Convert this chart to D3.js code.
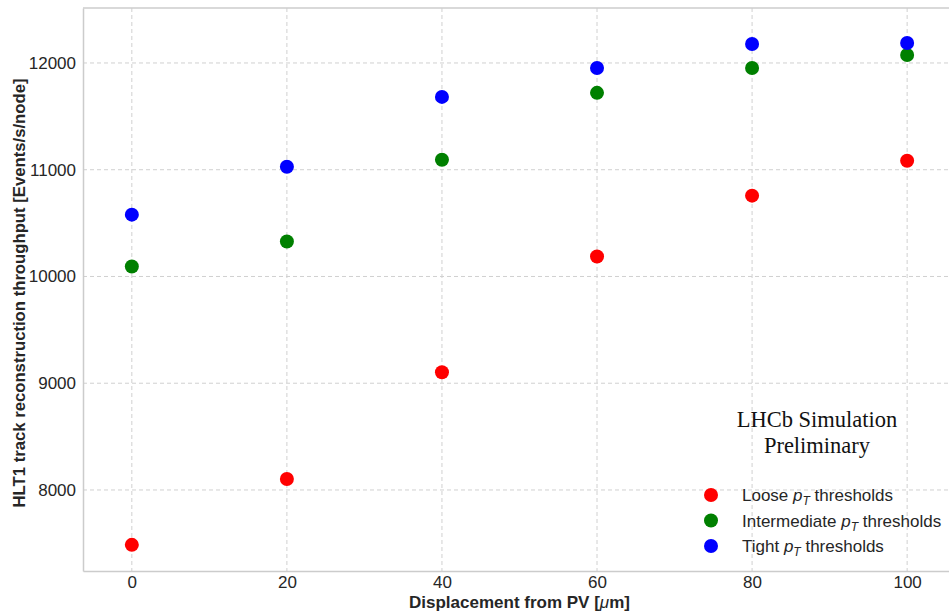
<!DOCTYPE html>
<html>
<head>
<meta charset="utf-8">
<script src="https://cdn.jsdelivr.net/npm/d3@7"></script>
<style>
  body { margin: 0; background: #fff; }
  text { font-family: "Liberation Sans", Arial, sans-serif; }
</style>
</head>
<body>
<div id="chart"></div>
<script>
/* Data */
const displacement = [0, 20, 40, 60, 80, 100];
const seriesNames = ['Loose', 'Intermediate', 'Tight'];
const seriesColors = ['#ff0000', '#008000', '#0000ff'];
const looseValues = [7486, 8103, 9103, 10187, 10757, 11084];
const intermediateValues = [10093, 10327, 11093, 11720, 11953, 12075];
const tightValues = [10579, 11028, 11682, 11953, 12178, 12187];
const xTicks = [0, 20, 40, 60, 80, 100];
const yTicks = [8000, 9000, 10000, 11000, 12000];

let width = 949, height = 616;
let margin = { top: 8, right: 0, bottom: 45, left: 83 };

let svg = d3.select('#chart').append('svg')
  .attr('width', width)
  .attr('height', height);

let x = d3.scaleLinear()
  .domain([-6.3, 105.4])
  .range([margin.left, width - margin.right]);

let y = d3.scaleLinear()
  .domain([7241, 12515])
  .range([height - margin.bottom, margin.top]);

// grid
let grid = svg.append('g');
grid.selectAll('.vgrid').data(xTicks).enter().append('line')
  .attr('x1', d => x(d)).attr('x2', d => x(d))
  .attr('y1', margin.top).attr('y2', height - margin.bottom)
  .style('stroke', '#d0d0d0').style('stroke-dasharray', '4,3').style('stroke-width', 1);
grid.selectAll('.hgrid').data(yTicks).enter().append('line')
  .attr('x1', margin.left).attr('x2', width - margin.right)
  .attr('y1', d => y(d)).attr('y2', d => y(d))
  .style('stroke', '#d0d0d0').style('stroke-dasharray', '4,3').style('stroke-width', 1);

// axes
let xAxis = svg.append('g')
  .attr('transform', 'translate(0,' + (height - margin.bottom) + ')')
  .call(d3.axisBottom(x).tickValues(xTicks).tickSize(0).tickPadding(5));
let yAxis = svg.append('g')
  .attr('transform', 'translate(' + margin.left + ',0)')
  .call(d3.axisLeft(y).tickValues(yTicks).tickFormat(d3.format('d')).tickSize(0).tickPadding(7));

[xAxis, yAxis].forEach(a => {
  a.select('.domain').style('stroke', '#cccccc').style('stroke-width', 1.5);
  a.selectAll('text').style('font-size', '17px').style('fill', '#262626')
    .style('font-family', '"Liberation Sans", Arial, sans-serif');
});

// top border
svg.append('line')
  .attr('x1', margin.left).attr('x2', width)
  .attr('y1', margin.top).attr('y2', margin.top)
  .style('stroke', '#cccccc').style('stroke-width', 1.5);

// axis labels
svg.append('text')
  .attr('x', x(50)).attr('y', 608)
  .attr('text-anchor', 'middle')
  .style('font-size', '17px').style('font-weight', 'bold').style('fill', '#262626')
  .html('Displacement from PV [<tspan font-style="italic" font-weight="normal">μ</tspan>m]');

svg.append('text')
  .attr('transform', 'translate(25,293) rotate(-90)')
  .attr('text-anchor', 'middle')
  .style('font-size', '16.7px').style('font-weight', 'bold').style('fill', '#262626')
  .text('HLT1 track reconstruction throughput [Events/s/node]');

// points
let allSeries = [looseValues, intermediateValues, tightValues];
allSeries.forEach((vals, s) => {
  svg.append('g').selectAll('circle')
    .data(vals).enter().append('circle')
    .attr('cx', (d, i) => x(displacement[i]))
    .attr('cy', d => y(d))
    .attr('r', 7)
    .style('fill', seriesColors[s]);
});

// LHCb label
let lhcb = svg.append('text')
  .attr('text-anchor', 'middle')
  .style('font-family', '"Liberation Serif", "DejaVu Serif", serif')
  .style('font-size', '22.5px').style('fill', '#111');
lhcb.append('tspan').attr('x', 817).attr('y', 427).text('LHCb Simulation');
lhcb.append('tspan').attr('x', 817).attr('y', 453).text('Preliminary');

// legend
let legend = svg.append('g');
seriesNames.forEach((name, i) => {
  let ly = 495 + i * 25.5;
  legend.append('circle').attr('cx', 711).attr('cy', ly).attr('r', 7).style('fill', seriesColors[i]);
  legend.append('text')
    .attr('x', 742).attr('y', ly + 6)
    .style('font-size', '17px').style('fill', '#262626')
    .html(name + ' <tspan font-style="italic">p</tspan><tspan font-style="italic" font-size="12px" dy="4">T</tspan><tspan dy="-4"> thresholds</tspan>');
});
</script>
</body>
</html>
